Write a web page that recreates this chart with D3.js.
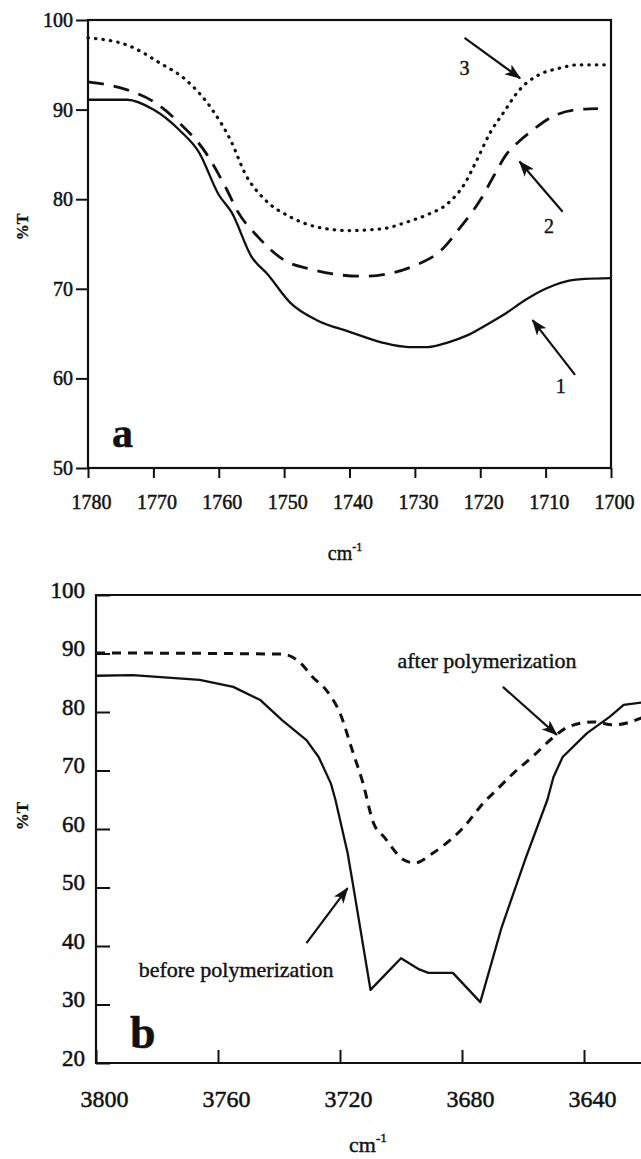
<!DOCTYPE html>
<html>
<head>
<meta charset="utf-8">
<script src="https://cdn.jsdelivr.net/npm/d3@7"></script>
<style>
body { margin: 0; background: #fff; }
svg { display: block; }
.axis path { display: none; }
.axis line { stroke: #111; stroke-width: 2; }
.frame { fill: none; stroke: #111; stroke-width: 2.2; }
.curve { fill: none; stroke: #111; stroke-linejoin: round; }
.arrow { stroke: #111; stroke-width: 2.2; }
</style>
</head>
<body>
<svg id="chart" width="641" height="1159"></svg>
<script>
// ---- panel a : C=O band, three samples ----
var aTicksX = [1780, 1770, 1760, 1750, 1740, 1730, 1720, 1710, 1700];
var aTicksY = [50, 60, 70, 80, 90, 100];

var a1Wave = [1780, 1774, 1770, 1766, 1763, 1760, 1758, 1755, 1752.5, 1749, 1745, 1740, 1735, 1731, 1728, 1725, 1722, 1719, 1716, 1713, 1710, 1707, 1704, 1700];
var a1T    = [91.1, 91.1, 90.0, 87.7, 85.2, 80.5, 78.5, 73.6, 71.6, 68.4, 66.5, 65.2, 64.0, 63.5, 63.5, 64.0, 64.8, 66.0, 67.3, 68.8, 70.0, 70.8, 71.1, 71.2];

var a2Wave = [1780, 1774, 1770, 1766, 1762, 1759, 1757, 1754, 1750, 1746, 1742, 1738, 1734, 1730, 1726, 1723, 1720, 1718, 1716, 1714, 1712, 1709, 1705, 1702];
var a2T    = [93.1, 92.2, 90.9, 88.5, 85.2, 81.4, 78.5, 75.8, 73.2, 72.2, 71.6, 71.4, 71.7, 72.6, 74.3, 76.9, 79.9, 82.5, 85.0, 86.5, 87.7, 89.2, 90.0, 90.1];

var a3Wave = [1780, 1774, 1769, 1765, 1761, 1758, 1756, 1753, 1749, 1745, 1740, 1735, 1731, 1728, 1725, 1722.5, 1720.5, 1718.5, 1716.5, 1714, 1711, 1708, 1705, 1701];
var a3T    = [98.0, 97.2, 95.2, 93.3, 90.0, 86.3, 82.9, 80.0, 78.0, 76.9, 76.5, 76.7, 77.5, 78.3, 79.5, 81.6, 84.4, 87.4, 89.6, 92.2, 93.9, 94.6, 95.0, 95.0];

// arrows: [label, labelWave, labelT, fromWave, fromT, toWave, toT]
var aNotes = [
    ['3', 1722.4, 93.9, 1722.4, 98.0, 1713.9, 93.5],
    ['2', 1709.5, 76.2, 1707.4, 78.6, 1714.0, 84.2],
    ['1', 1707.7, 58.4, 1705.5, 60.4, 1712.0, 66.5]
];

// ---- panel b : O-H band, before / after polymerization ----
var bTicksX = [3800, 3760, 3720, 3680, 3640];
var bTicksY = [20, 30, 40, 50, 60, 70, 80, 90, 100];

var bBeforeWave = [3800, 3788, 3766, 3755, 3746, 3739, 3731, 3727, 3723, 3721.5, 3717.5, 3716, 3710, 3700, 3694, 3691, 3683, 3674, 3667, 3659, 3652, 3650, 3647, 3639, 3631.5, 3627, 3620];
var bBeforeT    = [86.2, 86.3, 85.5, 84.3, 82.0, 78.6, 75.2, 72.3, 67.8, 65.0, 55.9, 51.3, 32.5, 37.9, 36.0, 35.4, 35.4, 30.4, 43.2, 55.2, 65.0, 68.9, 72.3, 76.4, 79.2, 81.2, 81.7];

var bAfterWave = [3800, 3739, 3733, 3729, 3724, 3720, 3716, 3712.5, 3709, 3705.5, 3699, 3695.5, 3689.5, 3680, 3672, 3670, 3663, 3657, 3650, 3645, 3637, 3630, 3621];
var bAfterT    = [90.1, 89.9, 88.4, 86.0, 83.4, 79.8, 73.5, 67.9, 61.0, 58.6, 54.7, 54.2, 55.9, 60.0, 65.0, 66.0, 69.6, 72.3, 75.7, 77.5, 78.3, 77.8, 79.0];

var bNotes = [
    ['after polymerization', 3671.8, 87.5, 3666.6, 84.3, 3648.9, 76.1, 'middle'],
    ['before polymerization', 3786.0, 34.7, 3731.0, 40.5, 3717.5, 49.9, 'start']
];

var FONT = '"Liberation Serif", "Times New Roman", Times, serif';

var svg = d3.select('#chart')
    .attr('font-family', FONT);

var defs = svg.append('defs');
defs.append('marker')
    .attr('id', 'head')
    .attr('viewBox', '0 0 16 12')
    .attr('refX', 15)
    .attr('refY', 6)
    .attr('markerWidth', 16)
    .attr('markerHeight', 12)
    .attr('markerUnits', 'userSpaceOnUse')
    .attr('orient', 'auto')
    .append('path')
    .attr('d', 'M0,0 L16,6 L0,12 L4,6 z')
    .attr('fill', '#111');

function zip(w, t){
    return w.map(function(d, i){ return [d, t[i]]; });
}

// scanned print looks heavy, so thicken the glyphs a little
function inked(sel, w){
    return sel.attr('fill', '#111').attr('stroke', '#111').attr('stroke-width', w);
}

function drawCurve(g, x, y, pts, width, dash, cap, curve){
    var line = d3.line()
        .x(function(d){ return x(d[0]); })
        .y(function(d){ return y(d[1]); })
        .curve(curve);
    g.append('path')
        .datum(pts)
        .attr('class', 'curve')
        .attr('d', line)
        .attr('stroke-width', width)
        .attr('stroke-dasharray', dash)
        .attr('stroke-linecap', cap);
}

function drawNotes(g, x, y, notes, size){
    notes.forEach(function(n){
        g.append('line')
            .attr('class', 'arrow')
            .attr('x1', x(n[3])).attr('y1', y(n[4]))
            .attr('x2', x(n[5])).attr('y2', y(n[6]))
            .attr('marker-end', 'url(#head)');
        inked(g.append('text'), 0.4)
            .attr('x', x(n[1])).attr('y', y(n[2]))
            .attr('text-anchor', n[7] || 'middle')
            .attr('font-size', size)
            .text(n[0]);
    });
}

function axisTitle(g, cx, cy, size){
    var t = inked(g.append('text'), 0.4)
        .attr('x', cx).attr('y', cy)
        .attr('text-anchor', 'middle')
        .attr('font-size', size);
    t.append('tspan').text('cm');
    t.append('tspan').attr('dy', -size * 0.45).attr('font-size', size * 0.6).text('-1');
}

function yTitle(g, cx, cy, size){
    inked(g.append('text'), 0.3)
        .attr('transform', 'translate(' + cx + ',' + cy + ') rotate(-90)')
        .attr('text-anchor', 'middle')
        .attr('dy', '0.35em')
        .attr('font-size', size)
        .attr('font-weight', 'bold')
        .text('%T');
}

function styleAxis(a, size){
    a.attr('font-family', FONT);
    inked(a.selectAll('text'), 0.5).attr('font-size', size);
}

// ---------- panel a ----------
(function(){
    var left = 88, right = 611, top = 20, bottom = 468;
    var x = d3.scaleLinear().domain([1780, 1700]).range([left, right]);
    var y = d3.scaleLinear().domain([50, 100]).range([bottom, top]);
    var g = svg.append('g');

    g.append('rect').attr('class', 'frame')
        .attr('x', left).attr('y', top)
        .attr('width', right - left).attr('height', bottom - top);

    var xa = g.append('g').attr('class', 'axis')
        .attr('transform', 'translate(0,' + bottom + ')')
        .call(d3.axisBottom(x).tickValues(aTicksX).tickSize(10).tickPadding(17).tickFormat(d3.format('d')));
    styleAxis(xa, 20);
    xa.selectAll('text').attr('dx', 3);

    var ya = g.append('g').attr('class', 'axis')
        .attr('transform', 'translate(' + left + ',0)')
        .call(d3.axisLeft(y).tickValues(aTicksY).tickSize(12).tickPadding(3).tickFormat(d3.format('d')));
    styleAxis(ya, 20);

    drawCurve(g, x, y, zip(a1Wave, a1T), 2.3, null, 'butt', d3.curveMonotoneX);
    drawCurve(g, x, y, zip(a2Wave, a2T), 2.8, '16 10', 'butt', d3.curveMonotoneX);
    drawCurve(g, x, y, zip(a3Wave, a3T), 3.2, '0.5 7', 'round', d3.curveMonotoneX);

    drawNotes(g, x, y, aNotes, 20);

    inked(g.append('text'), 0.5)
        .attr('x', left + 24).attr('y', bottom - 21)
        .attr('font-size', 42).attr('font-weight', 'bold')
        .text('a');

    axisTitle(g, 345, 560, 20);
    yTitle(g, 22, 227, 16);
})();

// ---------- panel b ----------
(function(){
    var left = 96, top = 595, bottom = 1063;
    var x = d3.scaleLinear().domain([3800, 3620]).range([left, left + 180 * 3.05]);
    var y = d3.scaleLinear().domain([20, 100]).range([bottom, top]);
    var g = svg.append('g');

    g.append('path').attr('class', 'frame')
        .attr('d', 'M660,' + top + 'H' + left + 'V' + bottom + 'H660');

    var xa = g.append('g').attr('class', 'axis')
        .attr('transform', 'translate(0,' + bottom + ')')
        .call(d3.axisBottom(x).tickValues(bTicksX).tickSize(-13).tickPadding(26).tickFormat(d3.format('d')));
    styleAxis(xa, 24);
    xa.selectAll('text').attr('dx', 8).attr('dy', '0.75em');

    var ya = g.append('g').attr('class', 'axis')
        .attr('transform', 'translate(' + left + ',0)')
        .call(d3.axisLeft(y).tickValues(bTicksY).tickSize(-14).tickPadding(11).tickFormat(d3.format('d')));
    styleAxis(ya, 23);
    ya.selectAll('text').attr('dy', '0.1em');

    drawCurve(g, x, y, zip(bBeforeWave, bBeforeT), 2.3, null, 'butt', d3.curveLinear);
    drawCurve(g, x, y, zip(bAfterWave, bAfterT), 3, '9 7', 'butt', d3.curveMonotoneX);

    drawNotes(g, x, y, bNotes, 22);

    inked(g.append('text'), 0.5)
        .attr('x', left + 34).attr('y', bottom - 15)
        .attr('font-size', 46).attr('font-weight', 'bold')
        .text('b');

    axisTitle(g, 368, 1152, 22);
    yTitle(g, 22, 816, 17);
})();
</script>
</body>
</html>
